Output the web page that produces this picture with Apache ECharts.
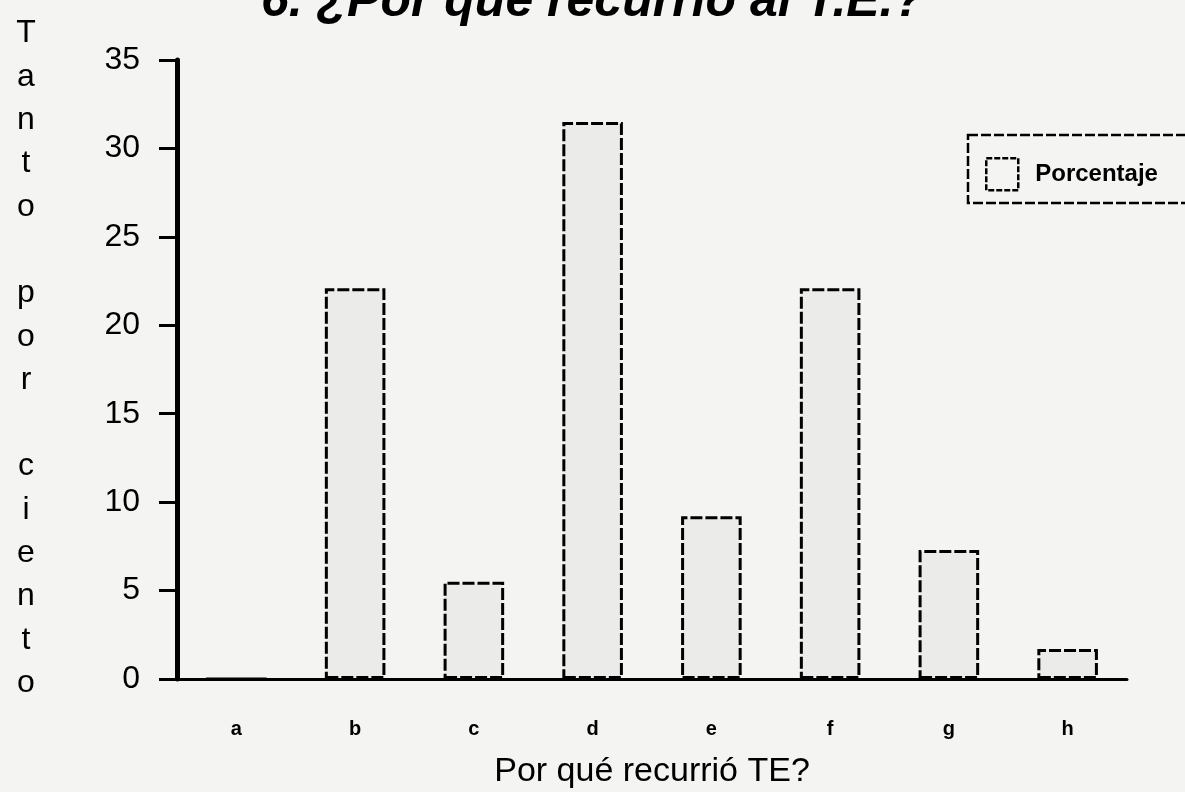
<!DOCTYPE html>
<html>
<head>
<meta charset="utf-8">
<script src="https://cdn.jsdelivr.net/npm/echarts@6/dist/echarts.min.js"></script>
<style>html,body{margin:0;padding:0;background:#f4f4f2;}#c{width:1185px;height:792px;}</style>
</head>
<body>
<div id="c"></div>
<script>
const categories = ['a','b','c','d','e','f','g','h'];
const porcentaje = [0, 22.1, 5.5, 31.5, 9.2, 22.1, 7.3, 1.7];
const yTicks = [0,5,10,15,20,25,30,35];
const titleText = '6. ¿Por qué recurrió al T.E.?';
const xName = 'Por qué recurrió TE?';
const yNameLetters = ['T','a','n','t','o','','p','o','r','','c','i','e','n','t','o'];
const FONT = 'Liberation Sans, Arial, sans-serif';

const chart = echarts.init(document.getElementById('c'));
chart.setOption({
  backgroundColor: '#f4f4f2',
  animation: false,
  textStyle: {fontFamily: FONT},
  title: {
    text: titleText, left: 'center', top: -28,
    textStyle: {fontSize: 50, fontStyle: 'italic', fontWeight: 'bold', color: '#000', fontFamily: FONT}
  },
  grid: {left: 177, right: 58, top: 60, bottom: 113, containLabel: false, outerBoundsMode: 'none'},
  legend: {
    data: ['Porcentaje'], left: 980, top: 152, icon: 'rect',
    itemWidth: 32, itemHeight: 32,
    itemStyle: {color: '#f4f4f2', borderColor: '#000', borderWidth: 2.5, borderType: [6, 2]},
    textStyle: {fontSize: 24, fontWeight: 'bold', color: '#000', padding: [0, 0, 0, 12]}
  },
  graphic: [
    {type: 'rect', shape: {x: 968, y: 135, width: 240, height: 68},
     style: {fill: 'none', stroke: '#000', lineWidth: 2.5, lineDash: [10, 3]}},
    {type: 'text', x: 26, y: 12,
     style: {text: yNameLetters.join('\n'), fontSize: 32, lineHeight: 43.3, fill: '#000', align: 'center', verticalAlign: 'top', fontFamily: FONT}}
  ],
  xAxis: {
    type: 'category', data: categories,
    name: xName, nameLocation: 'middle', nameGap: 76,
    nameTextStyle: {fontSize: 34, color: '#000'},
    axisLine: {lineStyle: {color: '#000', width: 3}},
    axisTick: {show: false},
    axisLabel: {fontSize: 20, fontWeight: 'bold', color: '#000', margin: 40}
  },
  yAxis: {
    type: 'value', min: 0, max: 35, interval: 5,
    axisLine: {show: true, lineStyle: {color: '#000', width: 5}},
    axisTick: {show: true, length: 18, lineStyle: {color: '#000', width: 3}},
    splitLine: {show: false},
    axisLabel: {fontSize: 32, color: '#000', margin: 37, formatter: v => yTicks.includes(v) ? String(v) : ''}
  },
  series: [{
    name: 'Porcentaje', type: 'bar', data: porcentaje, barWidth: '51%',
    itemStyle: {color: '#ebebe9', borderColor: '#000', borderWidth: 3, borderType: [12, 3]}
  }]
});
</script>
</body>
</html>
